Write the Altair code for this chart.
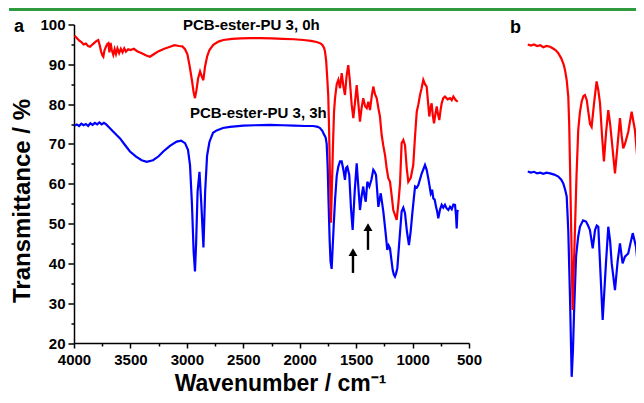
import altair as alt
import pandas as pd

FONT = "Liberation Sans"

# ---- panel a, PCB-ester-PU 3, 0h (red) ----
red_w = [3995, 3975, 3955, 3935, 3915, 3895, 3875, 3858, 3840, 3820,
         3800, 3785, 3772, 3760, 3748, 3740, 3730, 3720, 3708, 3696,
         3686, 3676, 3665, 3652, 3640, 3628, 3615, 3600, 3585, 3570,
         3555, 3540, 3520, 3500, 3470, 3440, 3400, 3360, 3327, 3290,
         3250, 3200, 3149, 3110, 3070, 3040, 3016, 2995, 2975, 2955,
         2940, 2928, 2915, 2900, 2883, 2868, 2854, 2839, 2820, 2800,
         2766, 2720, 2677, 2600, 2520, 2440, 2350, 2250, 2150, 2050,
         1968, 1900, 1850, 1820, 1800, 1785, 1776, 1766, 1757, 1747,
         1740, 1732, 1723, 1714, 1705, 1696, 1687, 1672, 1658, 1643,
         1628, 1613, 1599, 1585, 1570, 1556, 1540, 1525, 1510, 1495,
         1480, 1466, 1452, 1437, 1421, 1406, 1392, 1377, 1362, 1348,
         1333, 1318, 1303, 1289, 1274, 1259, 1244, 1230, 1215, 1200,
         1185, 1171, 1156, 1141, 1126, 1111, 1097, 1082, 1067, 1052,
         1038, 1016, 994, 978, 963, 948, 934, 920, 905, 890,
         875, 863, 852, 841, 831, 820, 810, 798, 786, 775,
         763, 752, 742, 728, 713, 690, 668, 653, 639, 617,
         600]
red_t = [97.2, 96.6, 96.0, 95.6, 95.0, 95.2, 94.6, 94.4, 94.9, 95.4,
         95.9, 96.1, 94.8, 93.2, 92.2, 91.9, 93.5, 94.2, 95.0, 95.3,
         93.0, 95.4, 93.6, 92.4, 93.8, 92.6, 94.0, 92.8, 93.9, 93.0,
         94.0, 93.2, 93.8, 93.6, 93.9, 93.3, 92.8, 92.2, 91.9, 92.6,
         93.3, 93.9, 94.4, 94.8, 94.6, 94.5, 93.8, 92.5, 89.5, 86.0,
         83.0, 81.5, 83.5, 86.5, 88.2, 87.0, 86.0, 89.4, 92.0, 93.6,
         94.9, 95.7, 96.1, 96.4, 96.5, 96.6, 96.6, 96.5, 96.4, 96.3,
         96.1, 95.9, 95.6, 95.3, 94.9, 94.2, 93.2, 91.0, 87.0, 82.0,
         74.0, 62.0, 50.2, 60.0, 70.0, 78.0, 81.5, 85.0, 86.1, 84.0,
         87.8, 84.5, 82.3, 87.0, 89.8, 86.0, 80.0, 76.5, 80.5, 84.8,
         80.0, 75.6, 79.0, 81.5, 79.5, 79.0, 80.6, 78.5, 82.0, 84.4,
         82.5, 81.5, 79.0, 76.9, 72.3, 69.5, 67.2, 64.0, 61.4, 60.5,
         57.0, 53.4, 52.2, 50.9, 55.0, 60.1, 70.2, 71.0, 69.7, 64.0,
         60.5, 61.5, 64.7, 72.0, 78.1, 80.0, 82.3, 84.0, 86.1, 85.0,
         84.4, 80.5, 76.9, 79.0, 80.2, 77.0, 75.2, 77.5, 79.4, 77.5,
         76.0, 78.5, 80.2, 81.5, 81.9, 81.2, 81.5, 81.0, 81.9, 81.0,
         80.6]

# ---- panel a, PCB-ester-PU 3, 3h (blue) ----
blue_w = [3995, 3975, 3955, 3935, 3915, 3895, 3875, 3855, 3835, 3815,
          3795, 3775, 3755, 3735, 3715, 3690, 3660, 3625, 3592, 3550,
          3504, 3450, 3400, 3356, 3300, 3250, 3209, 3150, 3090, 3050,
          3016, 2990, 2972, 2955, 2940, 2928, 2918, 2905, 2888, 2872,
          2853, 2838, 2821, 2800, 2768, 2736, 2680, 2618, 2500, 2400,
          2263, 2150, 2050, 1950, 1880, 1840, 1820, 1800, 1785, 1770,
          1761, 1752, 1744, 1735, 1727, 1717, 1708, 1698, 1687, 1672,
          1658, 1643, 1628, 1613, 1599, 1588, 1578, 1561, 1546, 1531,
          1513, 1495, 1480, 1466, 1451, 1437, 1426, 1415, 1401, 1383,
          1365, 1348, 1336, 1324, 1303, 1282, 1259, 1240, 1224, 1212,
          1200, 1188, 1176, 1166, 1156, 1146, 1135, 1116, 1097, 1082,
          1067, 1050, 1032, 1017, 1002, 990, 978, 963, 949, 920,
          890, 875, 861, 839, 827, 816, 804, 792, 782, 772,
          757, 742, 728, 713, 698, 683, 668, 653, 638, 624,
          615, 609, 603, 597]
blue_t = [74.6, 74.9, 74.5, 75.1, 74.7, 75.0, 74.5, 75.2, 74.8, 75.3,
          74.9, 75.4, 74.9, 75.3, 74.9, 74.2, 73.3, 72.3, 71.4, 69.8,
          68.1, 66.8, 65.9, 65.5, 65.9, 66.9, 68.1, 69.5, 70.6, 70.8,
          70.2, 68.5, 64.7, 55.0, 43.0, 38.0, 45.0, 58.0, 63.0, 55.0,
          44.0, 58.0, 67.0, 70.5, 72.8, 73.4, 74.0, 74.3, 74.6, 74.7,
          74.8, 74.7, 74.6, 74.5, 74.5, 74.3, 74.0, 73.3, 72.4, 71.6,
          70.0, 64.0, 55.0, 46.0, 40.5, 38.6, 44.0, 50.0, 55.9, 62.0,
          64.3, 65.6, 65.6, 63.5, 61.0, 64.0, 64.3, 62.2, 54.0, 48.4,
          58.0, 65.1, 59.0, 53.4, 57.0, 59.3, 57.0, 55.5, 60.5, 59.3,
          61.0, 63.5, 63.0, 62.2, 54.2, 57.6, 53.0, 48.0, 43.4, 44.5,
          43.8, 41.0, 38.3, 37.2, 36.7, 37.5, 38.8, 46.0, 53.0, 54.0,
          52.6, 48.0, 44.6, 48.0, 52.6, 56.0, 59.3, 59.0, 59.7, 62.5,
          64.7, 63.5, 61.4, 57.6, 58.5, 56.3, 56.0, 54.2, 53.0, 51.3,
          53.5, 54.7, 54.0, 54.7, 53.8, 53.4, 54.2, 53.6, 54.8, 54.7,
          52.0, 48.8, 53.0, 53.4]

# ---- panel b (carbonyl region, partly cut off) ----
b_red_w = [1995, 1975, 1955, 1935, 1915, 1895, 1875, 1852, 1830, 1815,
           1799, 1780, 1765, 1756, 1745, 1735, 1729, 1724, 1716, 1707,
           1700, 1692, 1682, 1671, 1660, 1649, 1638, 1628, 1616, 1606,
           1595, 1585, 1570, 1553, 1542, 1531, 1518, 1506, 1492, 1478,
           1466, 1456, 1435, 1420, 1403, 1392, 1382, 1371, 1350, 1328,
           1307, 1285, 1264, 1249]
b_red_t = [95.0, 94.7, 95.0, 94.6, 94.8, 94.3, 94.6, 94.4, 93.9, 93.5,
           92.8, 91.5, 90.0, 88.6, 86.0, 81.9, 75.0, 65.1, 48.0, 28.3,
           38.0, 48.4, 62.0, 73.5, 78.0, 80.6, 82.0, 82.3, 81.0, 78.0,
           75.0, 74.3, 80.0, 85.7, 83.5, 80.2, 72.0, 65.6, 73.0, 78.5,
           75.0, 71.0, 62.6, 69.0, 76.5, 72.0, 68.9, 70.0, 73.0, 78.1,
           73.5, 63.5, 61.4, 67.7]
b_blue_w = [1995, 1975, 1955, 1935, 1915, 1895, 1875, 1852, 1825, 1799,
            1780, 1767, 1755, 1745, 1735, 1724, 1713, 1705, 1698, 1685,
            1672, 1660, 1640, 1621, 1608, 1596, 1578, 1563, 1552, 1542,
            1531, 1514, 1493, 1478, 1466, 1456, 1435, 1418, 1403, 1386,
            1371, 1350, 1321, 1300, 1279, 1264, 1249]
b_blue_t = [63.1, 62.8, 63.0, 62.6, 62.8, 62.5, 62.8, 62.6, 62.3, 61.8,
            61.0, 60.1, 58.5, 56.8, 48.4, 31.6, 11.5, 18.0, 27.5, 41.7,
            46.5, 49.2, 50.8, 50.5, 49.5, 48.4, 43.8, 48.4, 49.5, 49.2,
            40.0, 25.8, 40.0, 49.2, 45.5, 40.0, 33.3, 40.5, 45.0, 40.0,
            41.7, 42.5, 47.6, 44.2, 35.8, 33.3, 40.0]

# ---- annotations ----
arrow_w = [1528, 1395]
arrow_base = [37.6, 43.4]
arrow_tip = [44.1, 50.4]
label_text = ["PCB-ester-PU 3, 0h", "PCB-ester-PU 3, 3h"]
label_w = [3034, 2972]
label_t = [98.6, 76.5]
x_ticks = list(range(500, 4001, 250))
y_ticks = list(range(20, 101, 5))

df_red = pd.DataFrame({"w": red_w, "t": red_t})
df_blue = pd.DataFrame({"w": blue_w, "t": blue_t})
df_bred = pd.DataFrame({"w": b_red_w, "t": b_red_t})
df_bblue = pd.DataFrame({"w": b_blue_w, "t": b_blue_t})
df_arrow = pd.DataFrame({"w": arrow_w, "t": arrow_base,
                         "head": [t - 1.3 for t in arrow_tip]})
df_lab = pd.DataFrame({"w": label_w, "t": label_t, "s": label_text})

axis_style = dict(domainColor="black", domainWidth=1.5, tickColor="black",
                  tickWidth=1.5, labelColor="black", labelFont=FONT,
                  labelFontSize=15, labelFontWeight="bold", titleFont=FONT,
                  titleFontWeight="bold", titleColor="black",
                  grid=False)

xs = alt.Scale(domain=[500, 4000], reverse=True, nice=False, zero=False)
ys = alt.Scale(domain=[20, 100], nice=False, zero=False)

x_axis = alt.Axis(values=x_ticks, format="d",
                  labelExpr="datum.value % 500 === 0 ? datum.label : ''",
                  tickSize={"condition": {"test": "datum.value % 500 === 0", "value": 5}, "value": 3},
                  labelPadding=4, labelFlush=False, labelOverlap=False,
                  title="Wavenumber / cm\u207b\u00b9", titleX=206, titleY=47,
                  titleFontSize=23,
                  titleAlign="center", titleBaseline="alphabetic", **axis_style)
y_axis = alt.Axis(values=y_ticks,
                  labelExpr="datum.value % 10 === 0 ? datum.label : ''",
                  tickSize={"condition": {"test": "datum.value % 10 === 0", "value": 6}, "value": 3},
                  labelPadding=3, labelFlush=False, labelOverlap=False,
                  title="Transmittance / %", titleX=-52, titleY=176,
                  titleFontSize=24,
                  titleAlign="center", titleBaseline="middle", **axis_style)

X = alt.X("w:Q", scale=xs, axis=x_axis)
Y = alt.Y("t:Q", scale=ys, axis=y_axis)
Yn = alt.Y("t:Q", scale=ys, axis=None)

blue_a = alt.Chart(df_blue).mark_line(color="#0000ff", strokeWidth=2.2).encode(x=X, y=Y)
red_a = alt.Chart(df_red).mark_line(color="#ff0000", strokeWidth=2.2).encode(x=X, y=Y)
shaft = alt.Chart(df_arrow).mark_rule(color="black", strokeWidth=2.4).encode(
    x=X, y=Y, y2="head:Q")
head = alt.Chart(df_arrow).mark_point(shape="triangle-up", filled=True, color="black",
                                      opacity=1, size=80).encode(
    x=X, y=alt.Y("head:Q", scale=ys, axis=y_axis))
labels = alt.Chart(df_lab).mark_text(font=FONT, fontSize=15, fontWeight="bold",
                                     color="black", align="left",
                                     baseline="alphabetic").encode(
    x=X, y=Y, text="s:N")

panel_a = alt.layer(blue_a, red_a, shaft, head, labels)

xb = alt.X("w:Q", scale=alt.Scale(domain=[1300, 2000], reverse=True, range=[453, 562],
                                  nice=False, zero=False), axis=None)
blue_b = alt.Chart(df_bblue).mark_line(color="#0000ff", strokeWidth=2.2).encode(x=xb, y=Yn)
red_b = alt.Chart(df_bred).mark_line(color="#ff0000", strokeWidth=2.2).encode(x=xb, y=Yn)

one = pd.DataFrame({"s": ["a"]})
green = alt.Chart(one).mark_rule(color="#2e9b3f", strokeWidth=3).encode(
    x=alt.value(-65), x2=alt.value(562), y=alt.value(-15))
tag_a = alt.Chart(pd.DataFrame({"s": ["a"]})).mark_text(
    font=FONT, fontSize=18, fontWeight="bold", color="black", align="left",
    baseline="alphabetic").encode(x=alt.value(-60), y=alt.value(7), text="s:N")
tag_b = alt.Chart(pd.DataFrame({"s": ["b"]})).mark_text(
    font=FONT, fontSize=18, fontWeight="bold", color="black", align="left",
    baseline="alphabetic").encode(x=alt.value(436), y=alt.value(8.5), text="s:N")

chart = alt.layer(panel_a, blue_b, red_b, green, tag_a, tag_b).resolve_scale(
    x="independent", y="independent"
).properties(
    width=395, height=318.5,
    autosize=alt.AutoSizeParams(type="none"),
    padding={"left": 66, "top": 16.5, "right": 167, "bottom": 52},
).configure_view(stroke=None)

chart.save("out.html", embed_options={"renderer": "svg", "actions": False})
